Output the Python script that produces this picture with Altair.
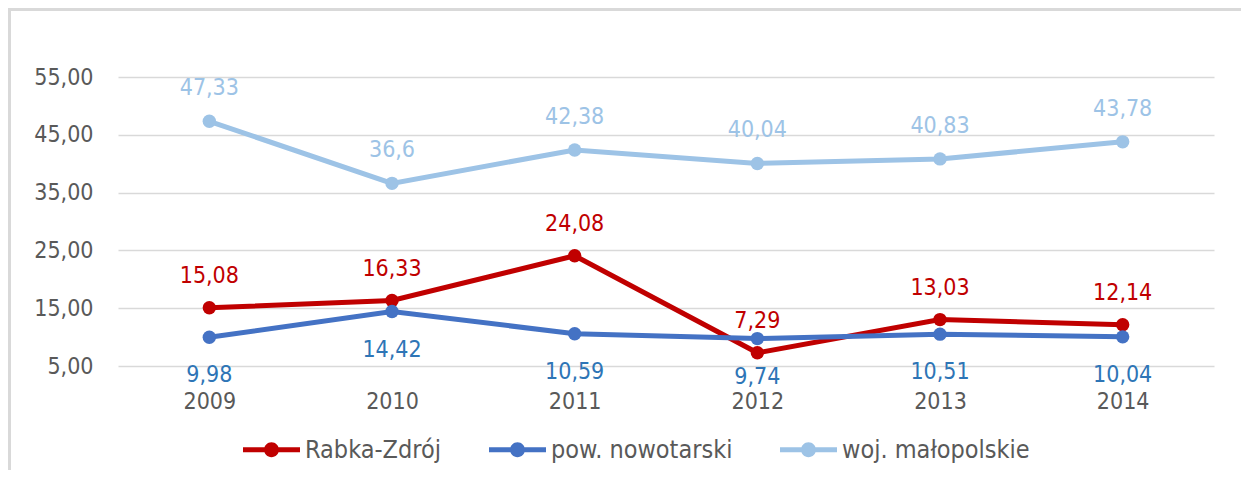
import altair as alt
import pandas as pd

years = ["2009", "2010", "2011", "2012", "2013", "2014"]
series_names = ["Rabka-Zdrój", "pow. nowotarski", "woj. małopolskie"]
rabka = [15.08, 16.33, 24.08, 7.29, 13.03, 12.14]
powiat = [9.98, 14.42, 10.59, 9.74, 10.51, 10.04]
woj = [47.33, 36.6, 42.38, 40.04, 40.83, 43.78]
colors = ["#C00000", "#4472C4", "#9DC3E6"]
label_colors = ["#C00000", "#2E75B6", "#9DC3E6"]
y_ticks = [5, 15, 25, 35, 45, 55]

rows = []
for name, vals in zip(series_names, [rabka, powiat, woj]):
    for yr, v in zip(years, vals):
        rows.append({"year": yr, "series": name, "value": v,
                     "label": str(v).replace(".", ",")})
df = pd.DataFrame(rows)

FONT = "'DejaVu Sans Condensed', 'Liberation Sans', sans-serif"
FS = 23

x_enc = alt.X("year:O", scale=alt.Scale(type="point", padding=0.5),
              axis=alt.Axis(title=None, labelAngle=0, ticks=False, domain=False,
                            labelPadding=24, labelFontSize=FS, labelFont=FONT,
                            labelColor="#595959", grid=False))
y_enc = alt.Y("value:Q", scale=alt.Scale(domain=[5, 55], nice=False, zero=False),
              axis=alt.Axis(title=None, values=y_ticks, ticks=False, domain=False,
                            labelExpr="replace(format(datum.value, '.2f'), '.', ',')",
                            labelPadding=25, labelFontSize=FS, labelFont=FONT,
                            labelColor="#595959", gridColor="#d9d9d9", gridWidth=1.5))

legend_path = ("M-1,-0.085H1V0.085H-1Z "
               "M0.26,0A0.26,0.26 0 1,1 -0.26,0A0.26,0.26 0 1,1 0.26,0Z")
legend = alt.Legend(title=None, orient="none", direction="horizontal",
                    legendX=125, legendY=344,
                    symbolType=legend_path, symbolSize=3249,
                    symbolStrokeWidth=0, symbolOpacity=1,
                    labelFont=FONT, labelFontSize=25, labelLimit=0,
                    labelColor="#595959", labelOffset=5,
                    columnPadding=47)
color_enc = alt.Color("series:N", scale=alt.Scale(domain=series_names, range=colors),
                      legend=legend)

base = alt.Chart(df)

lines = base.mark_line(strokeWidth=5).encode(x=x_enc, y=y_enc, color=color_enc)
points = base.mark_point(filled=True, size=180, opacity=1).encode(
    x=x_enc, y=y_enc, color=color_enc)

dys = [-32, 38, -33]
texts = []
for name, c, dy in zip(series_names, label_colors, dys):
    texts.append(
        base.transform_filter(alt.datum.series == name)
        .mark_text(font=FONT, fontSize=FS, color=c, dy=dy, baseline="middle")
        .encode(x=x_enc, y=y_enc, text="label:N")
    )

frame_data = alt.Data(values=[{"a": 1}])
top_rule = alt.Chart(frame_data).mark_rule(color="#d9d9d9", strokeWidth=3).encode(
    x=alt.value(-110), x2=alt.value(1123), y=alt.value(-67.5))
left_rule = alt.Chart(frame_data).mark_rule(color="#d9d9d9", strokeWidth=3).encode(
    x=alt.value(-108.5), y=alt.value(-69), y2=alt.value(393))

layers = [top_rule, left_rule]
for name in series_names:
    layers.append(lines.transform_filter(alt.datum.series == name))
    layers.append(points.transform_filter(alt.datum.series == name))

chart = alt.layer(*layers, *texts).properties(
    width=1096, height=289,
    padding={"left": 110, "top": 69, "right": 27, "bottom": 104},
    autosize=alt.AutoSizeParams(type="none"),
    background="white",
).configure_view(stroke=None)

chart.save("out.html", embed_options={"renderer": "svg", "actions": False})
